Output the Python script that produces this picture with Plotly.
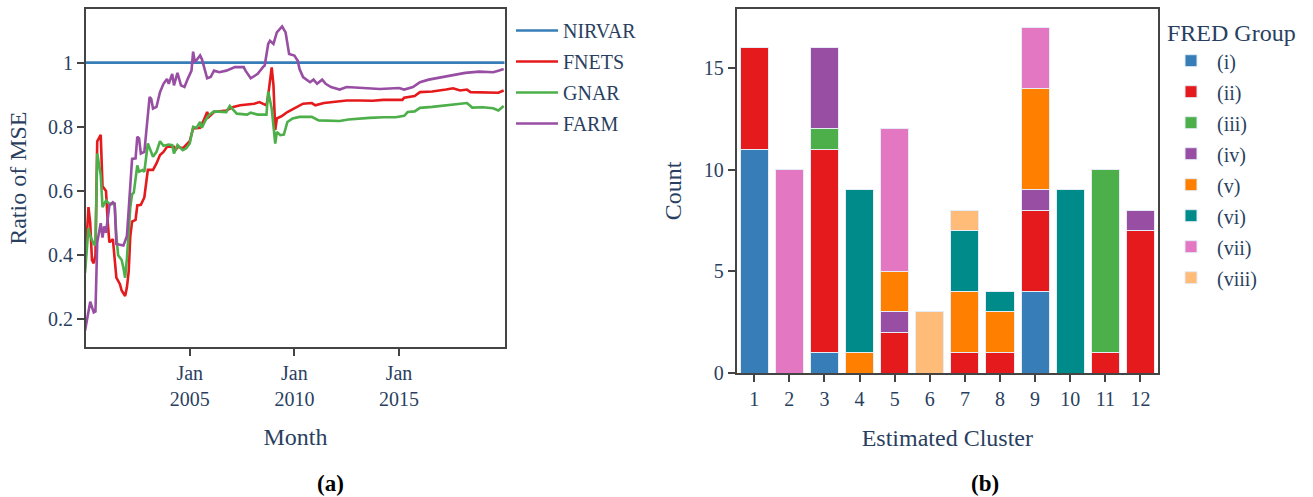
import plotly.graph_objects as go

# ---------------- Panel (a) data ----------------
nirvar_dates = ["2000-01-15", "2020-01-15"]
nirvar_vals = [1.0, 1.0]

fnets_dates = ["2000-01","2000-03","2000-04","2000-05","2000-06","2000-07","2000-08","2000-10","2000-11",
               "2001-01","2001-02","2001-03","2001-05","2001-06","2001-07","2001-09","2001-10","2001-12",
               "2002-01","2002-02","2002-03","2002-04","2002-06","2002-07","2002-09","2002-11",
               "2003-01","2003-04","2003-06","2003-08","2003-10","2003-12",
               "2004-04","2004-05","2004-06","2004-09","2004-11",
               "2005-01","2005-03","2005-07","2005-09","2005-11","2005-12",
               "2006-03","2006-10","2007-02","2007-06","2007-10","2008-02","2008-05","2008-09","2008-10","2008-12",
               "2009-01","2009-02","2009-03","2009-06","2009-09","2010-01","2010-04","2010-06","2010-11",
               "2011-01","2011-06","2011-11","2012-07","2013-02","2013-10","2014-04","2015-03","2015-04","2015-10",
               "2016-01","2016-08","2017-04","2017-08","2017-12","2018-04","2018-06","2019-03","2019-10","2020-01"]
fnets_vals = [0.36,0.55,0.50,0.385,0.375,0.40,0.755,0.775,0.615,
              0.60,0.50,0.44,0.45,0.39,0.33,0.31,0.29,0.273,
              0.30,0.35,0.46,0.505,0.51,0.555,0.557,0.58,
              0.666,0.666,0.686,0.712,0.722,0.738,
              0.738,0.727,0.738,0.733,0.743,
              0.755,0.795,0.797,0.820,0.846,0.831,
              0.846,0.851,0.862,0.867,0.869,0.872,0.877,0.867,0.898,0.985,
              0.93,0.79,0.826,0.834,0.846,0.857,0.865,0.872,0.874,
              0.867,0.874,0.877,0.882,0.882,0.881,0.884,0.884,0.891,0.896,
              0.908,0.910,0.916,0.920,0.913,0.916,0.908,0.908,0.906,0.913]

gnar_dates = ["2000-01","2000-03","2000-04","2000-06","2000-07","2000-08","2000-10","2000-11",
              "2001-01","2001-03","2001-06","2001-07","2001-08","2001-10","2001-11","2001-12",
              "2002-01","2002-03","2002-04","2002-05","2002-07","2002-08","2002-10","2002-11",
              "2003-01","2003-02","2003-04","2003-06","2003-08","2003-10",
              "2004-01","2004-03","2004-04","2004-06","2004-09","2004-11",
              "2005-01","2005-03","2005-05","2005-07","2005-08","2005-10","2005-12",
              "2006-03","2006-10","2006-12","2007-04","2007-10","2007-12","2008-04","2008-09","2008-10","2008-12",
              "2009-02","2009-03","2009-05","2009-07","2009-09","2009-12","2010-04","2010-11",
              "2011-03","2011-11","2012-03","2012-08","2013-02","2013-08","2014-04","2014-11",
              "2015-04","2015-06","2015-10","2016-01","2016-08","2017-04","2017-12","2018-04","2018-07",
              "2019-01","2019-07","2019-10","2020-01"]
gnar_vals = [0.345,0.485,0.46,0.435,0.43,0.717,0.65,0.55,
             0.57,0.56,0.56,0.46,0.40,0.385,0.36,0.33,
             0.39,0.55,0.59,0.595,0.68,0.66,0.665,0.66,
             0.748,0.733,0.707,0.722,0.755,0.741,
             0.745,0.743,0.717,0.743,0.727,0.733,
             0.748,0.80,0.797,0.815,0.797,0.82,0.836,
             0.848,0.846,0.865,0.841,0.838,0.844,0.838,0.838,0.91,0.857,
             0.748,0.784,0.774,0.776,0.815,0.826,0.831,0.831,
             0.82,0.82,0.818,0.823,0.826,0.828,0.830,0.830,
             0.834,0.846,0.848,0.859,0.862,0.867,0.872,0.874,0.86,
             0.861,0.858,0.851,0.865]

farm_dates = ["2000-01","2000-04","2000-06","2000-07","2000-08","2000-10","2000-11","2000-12",
              "2001-01","2001-03","2001-05","2001-06","2001-07","2001-11",
              "2002-01","2002-03","2002-04","2002-06","2002-07","2002-08","2002-09","2002-11","2002-12",
              "2003-02","2003-03","2003-04","2003-06","2003-08","2003-10","2003-12",
              "2004-01","2004-03","2004-04","2004-06","2004-08","2004-10","2004-12",
              "2005-02","2005-03","2005-04","2005-07","2005-08","2005-11",
              "2006-01","2006-03","2006-06","2006-10","2007-03","2007-08","2007-09","2007-12",
              "2008-04","2008-07","2008-08","2008-10","2008-11","2009-01","2009-03","2009-06","2009-08","2009-10",
              "2010-01","2010-03","2010-04","2010-06","2010-10","2010-12",
              "2011-02","2011-05","2011-07","2011-10","2012-03","2012-07","2013-02","2014-02",
              "2015-01","2015-04","2015-09","2016-01","2016-06","2017-02","2017-10","2018-03","2018-11",
              "2019-07","2019-10","2020-01"]
farm_vals = [0.165,0.255,0.222,0.225,0.44,0.50,0.455,0.49,
             0.47,0.555,0.565,0.56,0.435,0.43,
             0.46,0.61,0.70,0.702,0.769,0.764,0.717,0.722,0.774,
             0.893,0.887,0.857,0.862,0.908,0.934,0.949,
             0.934,0.965,0.929,0.968,0.929,0.924,0.951,
             0.975,1.034,1.001,1.022,1.011,0.951,
             0.955,0.975,0.970,0.975,0.986,0.986,0.975,0.951,
             0.965,0.986,0.991,1.058,1.068,1.058,1.094,1.1125,1.094,1.027,
             1.022,1.006,0.98,0.955,0.939,0.947,
             0.934,0.947,0.934,0.924,0.916,0.924,0.922,0.918,
             0.921,0.916,0.924,0.939,0.947,0.955,0.962,0.968,0.972,
             0.970,0.975,0.980]

date_tickvals = ["2005-01-01", "2010-01-01", "2015-01-01"]
date_ticktext = ["Jan<br>2005", "Jan<br>2010", "Jan<br>2015"]

# ---------------- Panel (b) data ----------------
clusters = [1, 2, 3, 4, 5, 6, 7, 8, 9, 10, 11, 12]
groups = ["(i)", "(ii)", "(iii)", "(iv)", "(v)", "(vi)", "(vii)", "(viii)"]
counts_i    = [11, 0, 1, 0, 0, 0, 0, 0, 4, 0, 0, 0]
counts_ii   = [5, 0, 10, 0, 2, 0, 1, 1, 4, 0, 1, 7]
counts_iii  = [0, 0, 1, 0, 0, 0, 0, 0, 0, 0, 9, 0]
counts_iv   = [0, 0, 4, 0, 1, 0, 0, 0, 1, 0, 0, 1]
counts_v    = [0, 0, 0, 1, 2, 0, 3, 2, 5, 0, 0, 0]
counts_vi   = [0, 0, 0, 8, 0, 0, 3, 1, 0, 9, 0, 0]
counts_vii  = [0, 10, 0, 0, 7, 0, 0, 0, 3, 0, 0, 0]
counts_viii = [0, 0, 0, 0, 0, 3, 1, 0, 0, 0, 0, 0]
group_counts = [counts_i, counts_ii, counts_iii, counts_iv, counts_v, counts_vi, counts_vii, counts_viii]
group_colors = ["#377eb8", "#e41a1c", "#4daf4a", "#984ea3", "#ff7f00", "#008b8b", "#e377c2", "#ffbb78"]

FONT = "Liberation Serif"
TXT = "#2a3f5f"
W, H = 1313, 497
# plotting region in pixels (left, right, top, bottom)
PL, PR, PT, PB = 86, 1158, 7, 373.3

def fx(p):
    return (p - PL) / (PR - PL)

def fy(p):
    return (PB - p) / (PB - PT)

fig = go.Figure()

line_series = [("NIRVAR", nirvar_dates, nirvar_vals, "#377eb8"),
               ("FNETS", fnets_dates, fnets_vals, "#e41a1c"),
               ("GNAR", gnar_dates, gnar_vals, "#4daf4a"),
               ("FARM", farm_dates, farm_vals, "#984ea3")]
for name, d, v, c in line_series:
    fig.add_trace(go.Scatter(x=d, y=v, mode="lines", name=name, legendgroup=name,
                             line=dict(color=c, width=2.6),
                             xaxis="x", yaxis="y", legend="legend"))

for g, cnt, col in zip(groups, group_counts, group_colors):
    xs = [c for c, n in zip(clusters, cnt) if n > 0]
    ys = [n for n in cnt if n > 0]
    fig.add_trace(go.Bar(x=xs, y=ys, name=g, legendgroup=g,
                         marker=dict(color=col, line=dict(color="#E5ECF6", width=1)),
                         xaxis="x2", yaxis="y2", legend="legend2"))

axis_common = dict(showline=True, linecolor="#444", linewidth=2, mirror=True, ticks="outside",
                   ticklen=7, tickcolor="#444", tickwidth=1.5, showgrid=False, zeroline=False,
                   tickfont=dict(family=FONT, size=20, color=TXT))
title_font = dict(family=FONT, size=24, color=TXT)

fig.update_layout(
    width=W, height=H,
    margin=dict(l=PL, r=W - PR, t=PT, b=H - PB),
    paper_bgcolor="white", plot_bgcolor="white",
    font=dict(family=FONT, size=20, color=TXT),
    barmode="stack", bargap=0.2,
    xaxis=dict(domain=[0, fx(505)], type="date",
               range=["2000-01-18", "2020-01-24"],
               tickvals=date_tickvals, ticktext=date_ticktext,
               title=dict(text="Month", font=title_font, standoff=19),
               anchor="y", **axis_common),
    yaxis=dict(domain=[fy(347.5), 1], range=[0.113, 1.167],
               tickvals=[0.2, 0.4, 0.6, 0.8, 1.0], ticktext=["0.2", "0.4", "0.6", "0.8", "1"],
               title=dict(text="Ratio of MSE", font=title_font),
               anchor="x", **axis_common),
    xaxis2=dict(domain=[fx(736.7), 1], range=[0.5, 12.5], dtick=1,
                title=dict(text="Estimated Cluster", font=title_font, standoff=20),
                anchor="y2", **axis_common),
    yaxis2=dict(domain=[0, 1], range=[0, 17.9], tickvals=[0, 5, 10, 15],
                title=dict(text="Count", font=title_font),
                anchor="x2", **axis_common),
    legend=dict(x=fx(511), y=fy(9), xanchor="left", yanchor="top", traceorder="grouped",
                tracegroupgap=2, itemwidth=42,
                font=dict(family=FONT, size=20, color=TXT), bgcolor="rgba(0,0,0,0)"),
    legend2=dict(x=fx(1165), y=fy(8), xanchor="left", yanchor="top", traceorder="grouped",
                 tracegroupgap=2, itemwidth=42,
                 title=dict(text="FRED Group", font=title_font),
                 font=dict(family=FONT, size=20, color=TXT), bgcolor="rgba(0,0,0,0)"),
    annotations=[
        dict(text="<b>(a)</b>", x=fx(330), y=fy(485), xref="paper", yref="paper",
             xanchor="center", yanchor="middle",
             showarrow=False, font=dict(family=FONT, size=23, color="black")),
        dict(text="<b>(b)</b>", x=fx(985), y=fy(485), xref="paper", yref="paper",
             xanchor="center", yanchor="middle",
             showarrow=False, font=dict(family=FONT, size=23, color="black")),
    ],
)

# remove the browser's default page margin so the figure sits at the window origin
fig.write_html("out.html", config={"displayModeBar": False},
               post_script="document.body.style.margin='0px';")
